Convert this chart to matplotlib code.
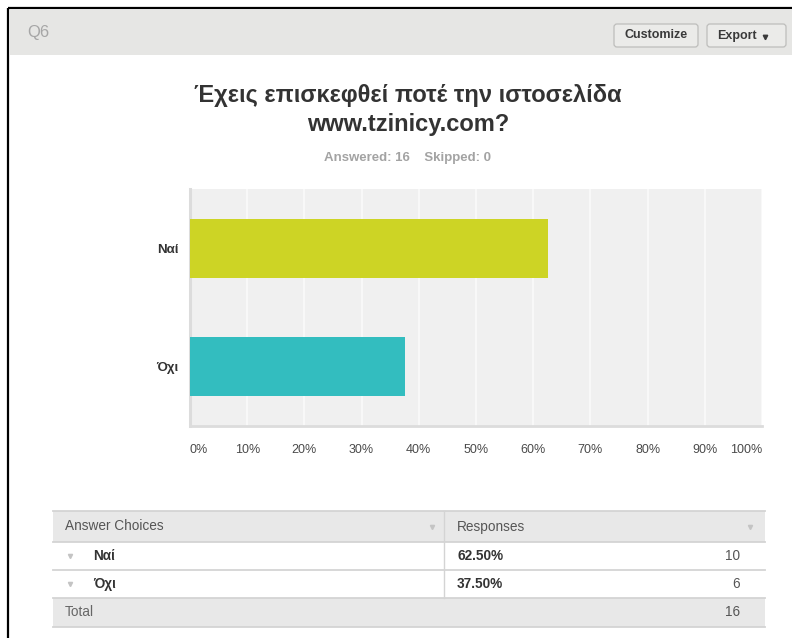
import numpy as np
import matplotlib.pyplot as plt
from matplotlib.patches import Rectangle, FancyBboxPatch

# =============================================================================
# Data
# =============================================================================
question_id = 'Q6'
title = 'Έχεις επισκεφθεί ποτέ την ιστοσελίδα\nwww.tzinicy.com?'
categories = ['Ναί', 'Όχι']
percent = [62.5, 37.5]
counts = [10, 6]
answered = 16
skipped = 0
bar_colors = ['#cdd425', '#33bdbf']
tick_values = np.arange(0, 101, 10)
tick_labels = ['%d%%' % v for v in tick_values]

plt.rcParams['font.family'] = ['Liberation Sans', 'DejaVu Sans']

W, H = 792, 638
fig = plt.figure(figsize=(W / 100, H / 100), dpi=100)
fig.patch.set_facecolor('white')

# =============================================================================
# Background axes in pixel coordinates (panel, header, buttons, table)
# =============================================================================
bg = fig.add_axes([0, 0, 1, 1])
bg.set_xlim(0, W)
bg.set_ylim(H, 0)
bg.axis('off')

# outer frame
bg.plot([8, 8], [H, 8], color='black', lw=1.6, solid_capstyle='butt')
bg.plot([8, W], [8, 8], color='black', lw=1.6, solid_capstyle='butt')

# header band
bg.add_patch(Rectangle((10, 10), W - 10, 45, facecolor='#e6e6e4', edgecolor='none'))
bg.text(27, 33, question_id, fontsize=12, color='#a6a6a6', va='center', ha='left')

# buttons
for x0, x1 in [(614, 698), (707, 786)]:
    bg.add_patch(FancyBboxPatch((x0, 24), x1 - x0, 23,
                                boxstyle='round,pad=0,rounding_size=3',
                                facecolor='#ebebe9', edgecolor='#bdbdbb', lw=0.9))
bg.text(656, 35.5, 'Customize', fontsize=9, fontweight='bold', color='#3a3a3a',
        ha='center', va='center')
bg.text(737, 35.5, 'Export', fontsize=9, fontweight='bold', color='#3a3a3a',
        ha='center', va='center')
bg.plot([765], [37], marker='v', ms=3.2, color='#3a3a3a')

# title and subtitle
bg.text(408, 110, title, fontsize=17, fontweight='bold', color='#333333',
        ha='center', va='center', linespacing=1.3)
bg.text(408, 158, 'Answered: %d    Skipped: %d' % (answered, skipped), fontsize=9.5,
        fontweight='bold', color='#a3a3a3', ha='center', va='center')

# table
tx0, tx1, tdiv = 53, 765, 444
rows_y = [511, 542, 570, 598, 627]
bg.add_patch(Rectangle((tx0, rows_y[0]), tx1 - tx0, rows_y[1] - rows_y[0],
                       facecolor='#e8e8e8', edgecolor='none'))
bg.add_patch(Rectangle((tx0, rows_y[3]), tx1 - tx0, rows_y[4] - rows_y[3],
                       facecolor='#e8e8e8', edgecolor='none'))
for y in rows_y:
    bg.plot([tx0, tx1], [y, y], color='#d4d4d4', lw=1.3)
bg.plot([tdiv, tdiv], [rows_y[0], rows_y[3]], color='#d4d4d4', lw=1.0)

fs_tab = 9.8
bg.text(65, 526.5, 'Answer Choices', fontsize=fs_tab, color='#555555', va='center')
bg.text(457, 526.5, 'Responses', fontsize=fs_tab, color='#555555', va='center')
bg.plot([432, 750], [527, 527], ls='none', marker='v', ms=3, color='#c4c4c4')
for i, (cat, p, c) in enumerate(zip(categories, percent, counts)):
    yc = (rows_y[i + 1] + rows_y[i + 2]) / 2
    bg.plot([70], [yc], marker='v', ms=3, color='#c4c4c4')
    bg.text(93, yc, cat, fontsize=fs_tab, fontweight='bold', color='#333333', va='center')
    bg.text(457, yc, '%.2f%%' % p, fontsize=fs_tab, fontweight='bold', color='#333333',
            va='center')
    bg.text(740, yc, str(c), fontsize=fs_tab, color='#555555', va='center', ha='right')
yt = (rows_y[3] + rows_y[4]) / 2
bg.text(65, yt, 'Total', fontsize=fs_tab, color='#666666', va='center')
bg.text(740, yt, str(sum(counts)), fontsize=fs_tab, color='#555555', va='center', ha='right')

# =============================================================================
# Bar chart
# =============================================================================
left, right, top, bottom = 190, 762, 189, 426
ax = fig.add_axes([left / W, 1 - bottom / H, (right - left) / W, (bottom - top) / H])
ax.set_facecolor('#f0f0f0')

y = np.arange(len(categories))
ax.barh(y, percent, height=0.5, color=bar_colors, zorder=3)
ax.set_xlim(0, 100)
ax.set_ylim(len(categories) - 0.5, -0.5)

ax.set_xticks(tick_values)
ax.set_xticklabels(tick_labels)
ax.grid(axis='x', color='#f8f8f8', lw=1.5, zorder=0)
ax.set_yticks(y)
ax.set_yticklabels(categories, fontsize=9.5, fontweight='bold', color='#333333')
ax.tick_params(axis='x', length=0, pad=13, labelsize=9, labelcolor='#4a4a4a')
ax.tick_params(axis='y', length=0, pad=8)
xl = ax.get_xticklabels()
xl[0].set_ha('left')
xl[-1].set_ha('right')

for s in ['top', 'right']:
    ax.spines[s].set_visible(False)
ax.spines['left'].set_color('#dcdcdc')
ax.spines['left'].set_linewidth(2.2)
ax.spines['bottom'].set_color('#dcdcdc')
ax.spines['bottom'].set_linewidth(2.0)

fig.savefig('out.png', dpi=100)
